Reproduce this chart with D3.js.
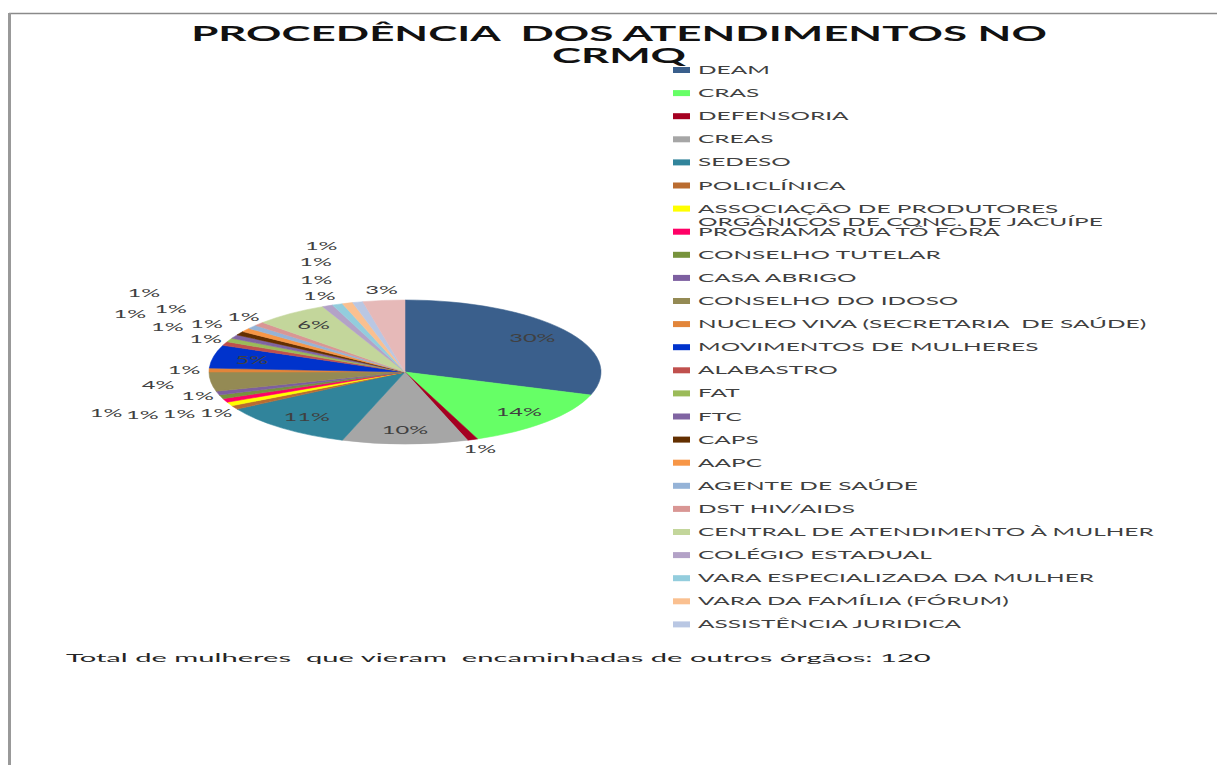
<!DOCTYPE html>
<html>
<head>
<meta charset="utf-8">
<script src="https://cdn.jsdelivr.net/npm/d3@7"></script>
<style>
  body { margin: 0; background: #fff; }
  svg { display: block; }
  text { font-family: Lato, "Open Sans", sans-serif; white-space: pre; }
</style>
</head>
<body>
<div id="chart"></div>
<script>
// dados
const categories = [
  "DEAM", "CRAS", "DEFENSORIA", "CREAS", "SEDESO", "POLICLÍNICA",
  "ASSOCIAÇÃO DE PRODUTORES\nORGÂNICOS DE CONC. DE JACUÍPE",
  "PROGRAMA RUA TÔ FORA", "CONSELHO TUTELAR", "CASA ABRIGO", "CONSELHO DO IDOSO",
  "NUCLEO VIVA (SECRETARIA  DE SAÚDE)", "MOVIMENTOS DE MULHERES", "ALABASTRO", "FAT", "FTC",
  "CAPS", "AAPC", "AGENTE DE SAÚDE", "DST HIV/AIDS", "CENTRAL DE ATENDIMENTO À MULHER",
  "COLÉGIO ESTADUAL", "VARA ESPECIALIZADA DA MULHER", "VARA DA FAMÍLIA (FÓRUM)",
  "ASSISTÊNCIA JURIDICA", "OUTROS"
];
const values = [35, 16, 1, 12, 13, 1, 1, 1, 1, 1, 5, 1, 6, 1, 1, 1, 1, 1, 1, 1, 7, 1, 1, 1, 1, 4];
const colors = [
  "#3A5F8C", "#66FF66", "#A50021", "#A6A6A6", "#31849B", "#BA6C30",
  "#FFFF00", "#FF0066", "#77933C", "#7D5FA0", "#948A54",
  "#E2853A", "#0033CC", "#C0504D", "#9BBB59", "#8064A2",
  "#632F00", "#F79646", "#95B3D7", "#D99694", "#C3D69B",
  "#B3A2C7", "#93CDDD", "#FAC090", "#B9C7E3", "#E6B9B8"
];
const legendCount = 25;   // a legenda original termina em ASSISTÊNCIA JURIDICA
const totalMulheres = 120;
const titleLines = ["PROCEDÊNCIA  DOS ATENDIMENTOS NO", "CRMQ"];

const W = 1217, H = 765;

const svg = d3.select("#chart").append("svg")
  .attr("width", W).attr("height", H);

// moldura (só topo e esquerda aparecem)
svg.append("line").attr("x1", 9).attr("x2", W).attr("y1", 13.5).attr("y2", 13.5)
  .attr("stroke", "#8a8a8a").attr("stroke-width", 1.5);
svg.append("line").attr("x1", 9.5).attr("x2", 9.5).attr("y1", 13).attr("y2", H)
  .attr("stroke", "#999").attr("stroke-width", 3);

// o gráfico original está esticado na horizontal
function stretchedText(g, x, y, str, sx) {
  return g.append("text")
    .attr("transform", `translate(${x},${y}) scale(${sx},1)`)
    .text(str);
}

// título
titleLines.forEach((t, i) => {
  stretchedText(svg, 619, 41 + i * 22, t, 2.09)
    .attr("text-anchor", "middle")
    .attr("font-size", 21)
    .attr("font-weight", 700)
    .attr("fill", "#111");
});

// pizza (elipse)
const cx = 405, cy = 372, ry = 72, rx = 196;
const pie = d3.pie().sort(null).value(d => d.v);
const data = categories.map((c, i) => ({ name: c, v: values[i], color: colors[i] }));
const arcs = pie(data);
const total = d3.sum(values);
const arc = d3.arc().innerRadius(0).outerRadius(ry);
const pct = d3.format(".0%");

const pieG = svg.append("g")
  .attr("transform", `translate(${cx},${cy}) scale(${rx / ry},1)`);
pieG.selectAll("path").data(arcs).enter().append("path")
  .attr("d", arc)
  .attr("fill", d => d.data.color)
  .attr("stroke", d => d.data.color)
  .attr("stroke-width", 0.3);

// rótulos: dentro para fatias grandes, fora (empurrados até não colidir) para as pequenas
const labelG = svg.append("g");
const mid = d => (d.startAngle + d.endAngle) / 2;
const placed = [];
const lw = 36, lh = 15;

function overlaps(b) {
  return placed.some(p => Math.abs(b.x - p.x) < lw && Math.abs(b.y - p.y) < lh);
}

arcs.forEach(d => {
  const a = mid(d);
  const s = Math.sin(a), c = -Math.cos(a);
  const share = d.data.v / total;
  let x, y;
  if (share >= 0.05) {
    x = cx + rx * 0.8 * s;
    y = cy + ry * 0.8 * c;
  } else {
    const len = Math.hypot(rx * s, ry * c);
    const ux = rx * s / len, uy = ry * c / len;
    const bx = cx + rx * s + s * (lw / 2 + 3);
    const by = cy + ry * c + c * (lh / 2 + 3);
    let k = 0;
    do {
      x = bx + ux * k * 4;
      y = by + uy * k * 4;
      k++;
    } while (overlaps({ x, y }) && k < 80);
    placed.push({ x, y });
  }
  stretchedText(labelG, x, y + 4, pct(d.data.v / total), 2.15)
    .attr("text-anchor", "middle")
    .attr("font-size", 11)
    .attr("fill", "#404040");
});

// legenda
const legG = svg.append("g");
data.slice(0, legendCount).forEach((d, i) => {
  const y = 70 + i * 23.1;
  legG.append("rect").attr("x", 673).attr("y", y - 3).attr("width", 17).attr("height", 6)
    .attr("fill", d.color);
  d.name.split("\n").forEach((line, j) => {
    stretchedText(legG, 698, y + 4 + j * 13, line, 2.22)
      .attr("font-size", 11)
      .attr("fill", "#404040");
  });
});

// texto inferior
stretchedText(svg, 66, 662, `Total de mulheres  que vieram  encaminhadas de outros órgãos: ${totalMulheres}`, 2.43)
  .attr("font-size", 12)
  .attr("fill", "#262626");
</script>
</body>
</html>
